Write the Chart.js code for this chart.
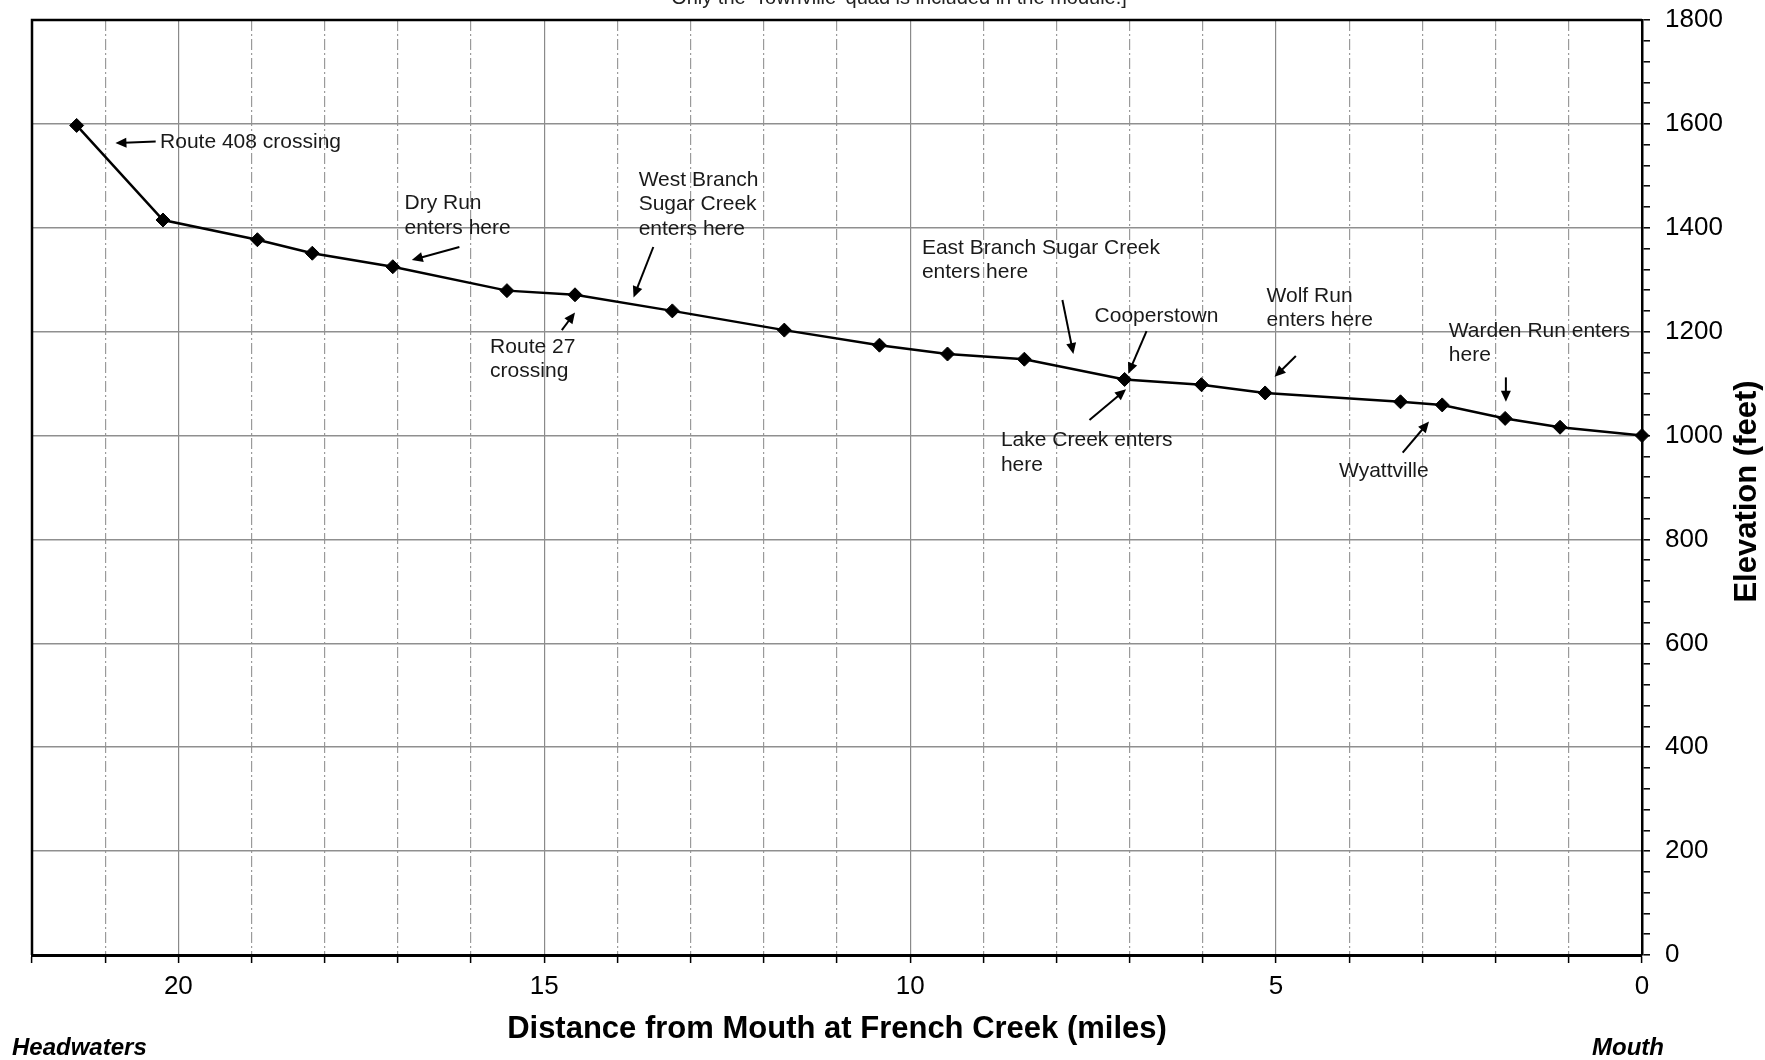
<!DOCTYPE html>
<html>
<head>
<meta charset="utf-8">
<title>Sugar Creek elevation profile</title>
<script src="https://cdn.jsdelivr.net/npm/chart.js@4.4.0/dist/chart.umd.min.js"></script>
<style>
    html, body { margin: 0; padding: 0; background: #fff; }
    #wrap { width: 1765px; height: 1060px; position: relative; }
</style>
</head>
<body>
<div id="wrap"><canvas id="profileChart"></canvas></div>
<script>
// Stream profile
const distanceMiles = [21.39, 20.21, 18.92, 18.17, 17.07, 15.51, 14.58, 13.25, 11.72, 10.42,
                       9.49, 8.44, 7.07, 6.02, 5.15, 3.30, 2.73, 1.87, 1.12, 0];
const elevationFeet = [1597, 1415, 1377, 1351, 1325, 1279, 1271, 1240, 1203, 1174,
                       1157, 1147, 1108, 1098, 1082, 1065, 1059, 1033, 1016, 1000];

// labelled ticks (gridlines every mile / minor ticks every 40 ft)
const xLabelTicks = [0, 5, 10, 15, 20];
const yLabelTicks = [0, 200, 400, 600, 800, 1000, 1200, 1400, 1600, 1800];

// Callouts: text (left edge, first line centre) and arrow tail -> head, in miles / feet
const noteText = [
    ['Route 408 crossing'],
    ['Dry Run', 'enters here'],
    ['West Branch', 'Sugar Creek', 'enters here'],
    ['Route 27', 'crossing'],
    ['East Branch Sugar Creek', 'enters here'],
    ['Cooperstown'],
    ['Lake Creek enters', 'here'],
    ['Wolf Run', 'enters here'],
    ['Warden Run enters', 'here'],
    ['Wyattville']
];
const noteAt    = [[20.25, 1564], [16.91, 1447], [13.71, 1492], [15.74, 1171], [9.84, 1361],
                   [7.48, 1229], [8.76, 991], [5.13, 1269], [2.64, 1201], [4.14, 932]];
const arrowFrom = [[20.31, 1566], [16.16, 1363], [13.51, 1363], [14.76, 1203], [7.92, 1261],
                   [6.77, 1201], [7.55, 1030], [4.73, 1153], [1.86, 1112], [3.27, 967]];
const arrowTo   = [[20.86, 1563], [16.81, 1338], [13.78, 1266], [14.58, 1237], [7.77, 1157],
                   [7.02, 1119], [7.05, 1089], [5.02, 1113], [1.86, 1065], [2.91, 1027]];

const FONT = "'Liberation Sans', Arial, sans-serif";
Chart.defaults.font.family = FONT;
Chart.defaults.color = '#000';

function drawArrow(ctx, x1, y1, x2, y2) {
    const ang = Math.atan2(y2 - y1, x2 - x1);
    const len = 11, half = 5;
    ctx.beginPath();
    ctx.moveTo(x1, y1);
    ctx.lineTo(x2 - Math.cos(ang) * len * 0.8, y2 - Math.sin(ang) * len * 0.8);
    ctx.stroke();
    ctx.beginPath();
    ctx.moveTo(x2, y2);
    ctx.lineTo(x2 - Math.cos(ang) * len - Math.sin(ang) * half, y2 - Math.sin(ang) * len + Math.cos(ang) * half);
    ctx.lineTo(x2 - Math.cos(ang) * len + Math.sin(ang) * half, y2 - Math.sin(ang) * len - Math.cos(ang) * half);
    ctx.closePath();
    ctx.fill();
}

// frame, callouts and the extra captions
const profileDecor = {
    id: 'profileDecor',
    afterDraw(chart) {
        const {ctx, chartArea: area, scales: {x, y}} = chart;
        ctx.save();

        // top + left border of the plot
        ctx.strokeStyle = '#000';
        ctx.lineWidth = 2.5;
        ctx.beginPath();
        ctx.moveTo(area.left, area.bottom);
        ctx.lineTo(area.left, area.top);
        ctx.lineTo(area.right, area.top);
        ctx.stroke();

        // callouts
        ctx.fillStyle = '#1a1a1a';
        ctx.font = '21px ' + FONT;
        ctx.textAlign = 'left';
        ctx.textBaseline = 'middle';
        noteText.forEach((lines, i) => {
            const tx = x.getPixelForValue(noteAt[i][0]);
            const ty = y.getPixelForValue(noteAt[i][1]);
            lines.forEach((line, j) => ctx.fillText(line, tx, ty + j * 24.5));
        });
        ctx.strokeStyle = '#000';
        ctx.fillStyle = '#000';
        ctx.lineWidth = 2;
        arrowFrom.forEach((from, i) => {
            drawArrow(ctx,
                x.getPixelForValue(from[0]), y.getPixelForValue(from[1]),
                x.getPixelForValue(arrowTo[i][0]), y.getPixelForValue(arrowTo[i][1]));
        });

        // caption left over from the source figure (cut off at the top)
        ctx.fillStyle = '#222';
        ctx.font = '20px ' + FONT;
        ctx.textAlign = 'center';
        ctx.textBaseline = 'alphabetic';
        ctx.fillText("Only the 'Townville' quad is included in the module.]", 899, 4);

        // Headwaters / Mouth
        ctx.fillStyle = '#000';
        ctx.font = 'italic bold 24px ' + FONT;
        ctx.textBaseline = 'middle';
        ctx.textAlign = 'left';
        ctx.fillText('Headwaters', 12, 1048);
        ctx.textAlign = 'right';
        ctx.fillText('Mouth', 1664, 1048);

        // y-axis title, reading bottom to top on the right side
        ctx.translate(area.right + 105, (area.top + area.bottom) / 2 + 4);
        ctx.rotate(-Math.PI / 2);
        ctx.font = 'bold 31px ' + FONT;
        ctx.textAlign = 'center';
        ctx.fillText('Elevation (feet)', 0, 0);
        ctx.restore();
    }
};

new Chart(document.getElementById('profileChart'), {
    type: 'line',
    data: {
        datasets: [{
            data: distanceMiles.map((d, i) => ({x: d, y: elevationFeet[i]})),
            borderColor: '#000',
            borderWidth: 2.5,
            backgroundColor: '#000',
            pointStyle: 'rectRot',
            pointRadius: 7,
            pointBorderWidth: 1,
            pointBackgroundColor: '#000',
            tension: 0,
            clip: false
        }]
    },
    options: {
        responsive: true,
        maintainAspectRatio: false,
        animation: false,
        layout: { padding: { left: 32, top: 20, right: 0, bottom: 0 } },
        plugins: { legend: { display: false }, tooltip: { enabled: false } },
        scales: {
            x: {
                type: 'linear',
                reverse: true,
                min: 0,
                max: 22,
                afterFit: (scale) => {
                    scale.height = 105;
                    scale.paddingLeft = 0;
                    scale.paddingRight = 0;
                },
                ticks: {
                    stepSize: 1,
                    autoSkip: false,
                    maxRotation: 0,
                    padding: 8,
                    font: { size: 26 },
                    color: '#000',
                    callback: (v) => xLabelTicks.includes(v) ? String(v) : ''
                },
                grid: {
                    color: (c) => c.tick && c.tick.value % 5 === 0 ? '#8a8a8a' : '#9a9a9a',
                    lineWidth: 1.2,
                    tickLength: 8,
                    tickColor: '#000',
                    tickWidth: 1.5
                },
                border: {
                    color: '#000',
                    width: 3,
                    dash: (c) => c.tick && c.tick.value % 5 !== 0 ? [11, 3, 2, 3] : []
                },
                title: {
                    display: true,
                    text: 'Distance from Mouth at French Creek (miles)',
                    font: { size: 31, weight: 'bold' },
                    color: '#000',
                    padding: { top: 0, bottom: 12 }
                }
            },
            y: {
                type: 'linear',
                position: 'right',
                min: 0,
                max: 1800,
                afterFit: (scale) => {
                    scale.width = 123;
                    scale.paddingTop = 0;
                    scale.paddingBottom = 0;
                },
                ticks: {
                    stepSize: 40,
                    autoSkip: false,
                    padding: 15,
                    font: { size: 26 },
                    color: '#000',
                    callback: (v) => yLabelTicks.includes(v) ? String(v) : ''
                },
                grid: {
                    color: (c) => c.tick && c.tick.value % 200 === 0 ? '#8f8f8f' : 'rgba(0,0,0,0)',
                    lineWidth: 1.6,
                    tickLength: 8,
                    tickColor: '#000',
                    tickWidth: 1.5
                },
                border: { color: '#000', width: 2.5 }
            }
        }
    },
    plugins: [profileDecor]
});
</script>
</body>
</html>
